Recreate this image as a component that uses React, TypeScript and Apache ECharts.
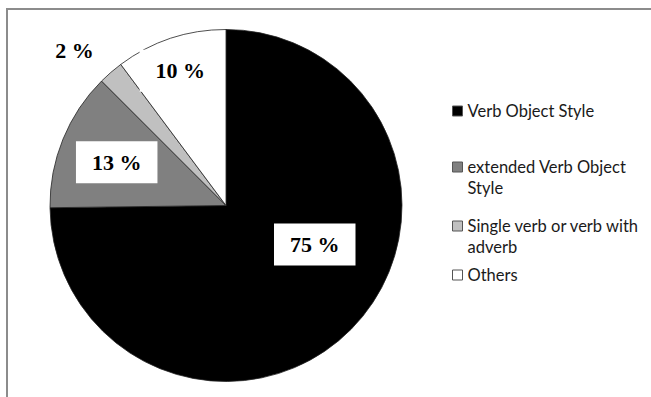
import React, { useEffect, useRef } from "react";
import * as echarts from "echarts";

const categories = [
  "Verb Object Style",
  "extended Verb Object Style",
  "Single verb or verb with adverb",
  "Others",
];
const legendLines = [
  ["Verb Object Style"],
  ["extended Verb Object", "Style"],
  ["Single verb or verb with", "adverb"],
  ["Others"],
];
const values = [74.8, 12.7, 2.3, 10.2];
const colors = ["#000000", "#808080", "#c0c0c0", "#ffffff"];

// label placement tweaks (style)
const labelDx = [24, -25, -92, -17];
const labelDy = [-25, -9, -86.5, -48.5];
const legendIconTops = [111, 167, 226, 275];

export default function App() {
  const ref = useRef<HTMLDivElement>(null);
  useEffect(() => {
    if (!ref.current) return;
    const chart = echarts.init(ref.current, undefined, { renderer: "svg" });
    const lineH = 20.5;
    const legends = categories.map((name, i) => {
      const lines = legendLines[i];
      const shown = lines.length > 1 ? [" ", ...lines] : lines;
      const boxH = Math.max(10, shown.length * lineH);
      return {
        show: true,
        orient: "vertical",
        left: 452,
        top: legendIconTops[i] - boxH / 2,
        padding: 0,
        icon: "rect",
        itemWidth: 10,
        itemHeight: 10,
        itemGap: 0,
        selectedMode: false,
        itemStyle: { borderColor: "#555", borderWidth: 1 },
        formatter: () => shown.join("\n"),
        textStyle: {
          fontFamily: "Lato",
          fontSize: 16.5,
          color: "#1a1a1a",
          lineHeight: lineH,
        },
        data: [{ name }],
      };
    });
    chart.setOption({
      animation: false,
      backgroundColor: "#ffffff",
      graphic: [
        {
          type: "rect",
          shape: { x: 7, y: 9, width: 700, height: 500 },
          style: { fill: "none", stroke: "#8c8c8c", lineWidth: 2 },
          silent: true,
        },
      ],
      legend: legends,
      series: [
        {
          type: "pie",
          center: [226, 205.5],
          radius: 176,
          startAngle: 90,
          clockwise: true,
          avoidLabelOverlap: false,
          itemStyle: { borderColor: "#222", borderWidth: 0.8 },
          label: {
            show: true,
            position: "inside",
            formatter: (p: any) => Math.round(p.percent) + " %",
            fontFamily: "Liberation Serif",
            fontWeight: "bold",
            fontSize: 22,
            color: "#000",
            backgroundColor: "#fff",
            padding: [10, 16],
          },
          labelLine: { show: false },
          labelLayout: (params: any) => ({
            dx: labelDx[params.dataIndex],
            dy: labelDy[params.dataIndex],
          }),
          emphasis: { disabled: true },
          data: categories.map((name, i) => ({
            name,
            value: values[i],
            itemStyle: { color: colors[i] },
          })),
        },
      ],
    });
    return () => chart.dispose();
  }, []);
  return (
    <div
      ref={ref}
      style={{ position: "absolute", left: 0, top: 0, width: 651, height: 397 }}
    />
  );
}
